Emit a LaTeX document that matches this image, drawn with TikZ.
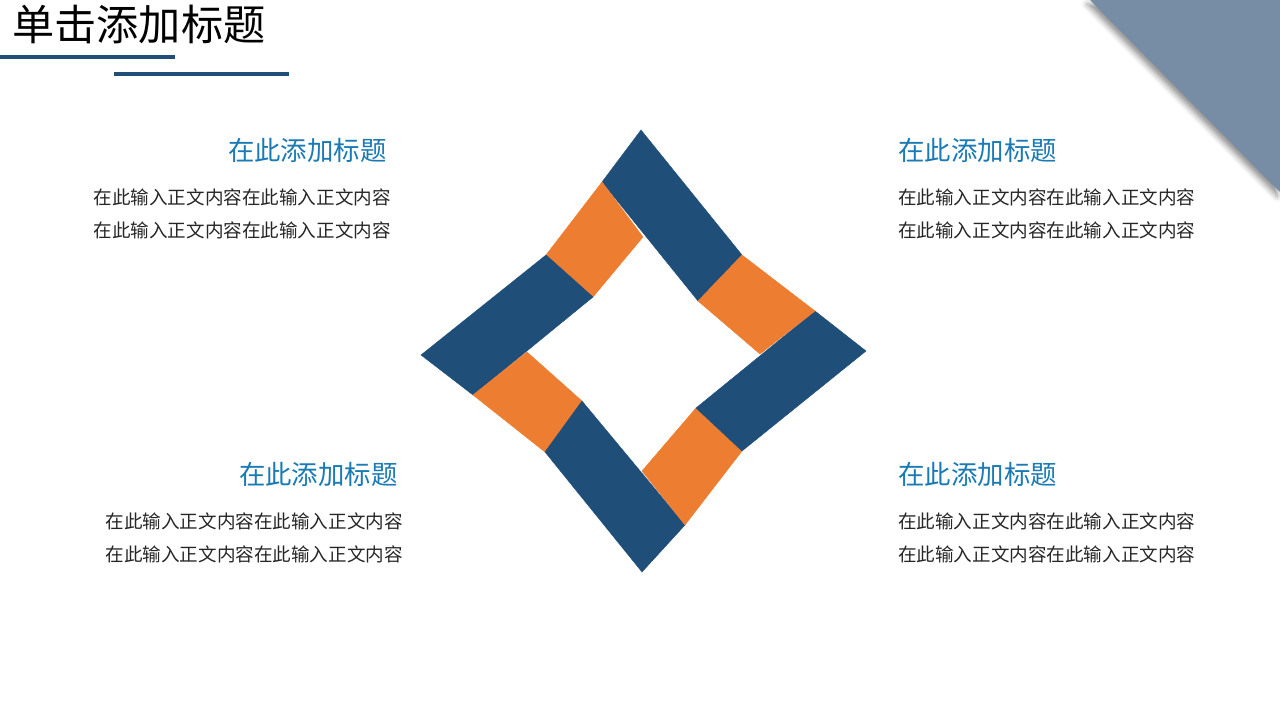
\documentclass[tikz,border=0pt]{standalone}
\usepackage{fontspec}
\setmainfont{Noto Sans CJK SC}
\usetikzlibrary{shadows.blur}
\definecolor{darkband}{HTML}{1F4E79}
\definecolor{orangeband}{HTML}{ED7D31}
\definecolor{headblue}{HTML}{1A7AB3}
\definecolor{cornerblue}{HTML}{778CA5}
\definecolor{bodytext}{HTML}{262626}
\begin{document}
\begin{tikzpicture}[x=0.025cm,y=-0.025cm]
	\useasboundingbox (0,0) rectangle (1280,720);
	% corner triangle
	\fill[cornerblue,blur shadow={shadow xshift=-2pt,shadow yshift=-3pt,shadow blur radius=4pt,shadow opacity=45}] (1090,0) -- (1280,0) -- (1280,192) -- cycle;
	% title
	\node[anchor=west,inner sep=0pt,font=\fontsize{30pt}{30pt}\selectfont] (title) at (12,24) {单击添加标题};
	\draw[darkband,line width=2.2pt] (0,57) -- (175,57);
	\draw[darkband,line width=2.2pt] (114,74) -- (289,74);
	% pinwheel
	\begin{scope}[every path/.style={line width=0.3pt}]
	\filldraw[darkband] (641,130) -- (742,255) -- (698,301) -- (602,182) -- cycle;
	\filldraw[orangeband] (602,182) -- (643,237) -- (593,297) -- (546,255) -- cycle;
	\filldraw[darkband] (421,355) -- (546,255) -- (593,297) -- (473,395) -- cycle;
	\filldraw[orangeband] (473,395) -- (527,352) -- (582,401) -- (545,452) -- cycle;
	\filldraw[darkband] (582,401) -- (685,525) -- (642,572) -- (545,452) -- cycle;
	\filldraw[orangeband] (642,471) -- (696,408) -- (742,451) -- (685,525) -- cycle;
	\filldraw[darkband] (696,408) -- (815,311) -- (866,351) -- (742,451) -- cycle;
	\filldraw[orangeband] (742,255) -- (815,311) -- (760,354) -- (698,301) -- cycle;
	\end{scope}
	% headings
	\begin{scope}[every node/.style={inner sep=0pt,text=headblue,font=\fontsize{18.8pt}{18.8pt}\selectfont}]
	\node[anchor=east] (headA) at (387,150) {在此添加标题};
	\node[anchor=west] (headB) at (898,150) {在此添加标题};
	\node[anchor=east] (headC) at (398,474) {在此添加标题};
	\node[anchor=west] (headD) at (898,474) {在此添加标题};
	\end{scope}
	% body text
	\begin{scope}[every node/.style={inner sep=0pt,text=bodytext,font=\fontsize{13.2pt}{13.2pt}\selectfont}]
	\node[anchor=east] (textA1) at (391,197) {在此输入正文内容在此输入正文内容};
	\node[anchor=east] (textA2) at (391,230) {在此输入正文内容在此输入正文内容};
	\node[anchor=west] (textB1) at (898,197) {在此输入正文内容在此输入正文内容};
	\node[anchor=west] (textB2) at (898,230) {在此输入正文内容在此输入正文内容};
	\node[anchor=east] (textC1) at (403,521) {在此输入正文内容在此输入正文内容};
	\node[anchor=east] (textC2) at (403,554) {在此输入正文内容在此输入正文内容};
	\node[anchor=west] (textD1) at (898,521) {在此输入正文内容在此输入正文内容};
	\node[anchor=west] (textD2) at (898,554) {在此输入正文内容在此输入正文内容};
	\end{scope}
\end{tikzpicture}
\end{document}
